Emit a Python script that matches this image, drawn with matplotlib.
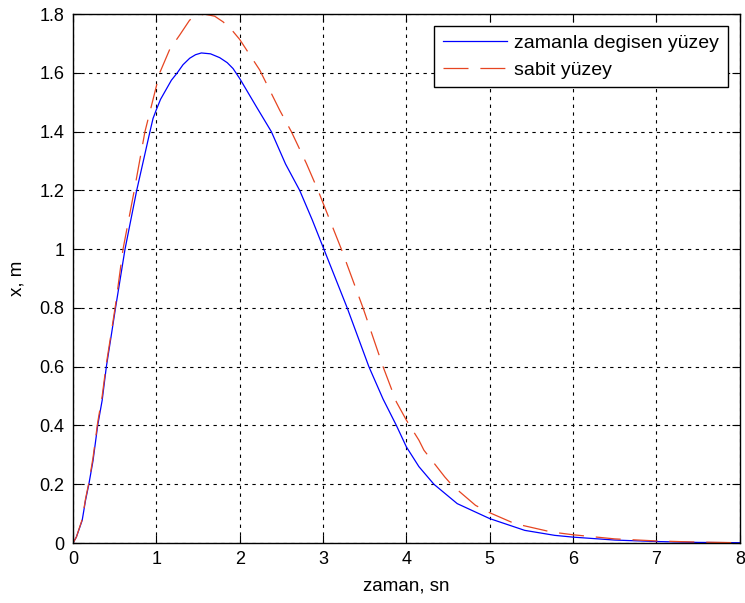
import matplotlib
matplotlib.use("Agg")
import matplotlib.pyplot as plt

t_blue = [0, 0.04, 0.11, 0.15, 0.19, 0.24, 0.296, 0.35, 0.40, 0.45, 0.51, 0.624, 0.764,
          0.923, 0.96, 1.0, 1.05, 1.12, 1.18, 1.25, 1.32, 1.4, 1.47, 1.54, 1.65, 1.76, 1.85,
          1.92, 2.0, 2.2, 2.38, 2.55, 2.72, 2.87, 3.01, 3.15, 3.29, 3.42, 3.55, 3.72, 3.88,
          4.0, 4.15, 4.33, 4.61, 5.0, 5.42, 5.78, 6.0, 6.5, 7.0, 7.5, 8.0]
x_blue = [0, 0.02, 0.077, 0.145, 0.2, 0.28, 0.4, 0.486, 0.6, 0.69, 0.8, 1.0, 1.2,
          1.4, 1.445, 1.475, 1.51, 1.545, 1.575, 1.6, 1.628, 1.65, 1.662, 1.668, 1.665, 1.652,
          1.635, 1.615, 1.581, 1.485, 1.4, 1.29, 1.2, 1.1, 1.0, 0.9, 0.8, 0.7, 0.6, 0.49, 0.4,
          0.327, 0.26, 0.2, 0.134, 0.083, 0.043, 0.026, 0.02, 0.01, 0.005, 0.002, 0.001]

t_red = [0, 0.04, 0.11, 0.15, 0.19, 0.24, 0.296, 0.35, 0.40, 0.45, 0.51, 0.60, 0.735,
         0.863, 1.04, 1.16, 1.28, 1.40, 1.5, 1.58, 1.7, 1.80, 1.9, 2.0, 2.24, 2.48, 2.62, 2.8,
         2.94, 3.22, 3.48, 3.72, 3.88, 4.0, 4.15, 4.21, 4.46, 4.55, 4.83, 5.0, 5.3, 5.74, 6.0,
         6.5, 7.0, 7.5, 8.0]
x_red = [0, 0.02, 0.08, 0.15, 0.205, 0.29, 0.41, 0.5, 0.61, 0.7, 0.81, 1.0, 1.2,
         1.4, 1.6, 1.68, 1.729, 1.78, 1.795, 1.8, 1.793, 1.774, 1.748, 1.714, 1.61, 1.473, 1.4,
         1.292, 1.2, 1.0, 0.8, 0.6, 0.48, 0.418, 0.35, 0.316, 0.225, 0.196, 0.128, 0.103, 0.066,
         0.0375, 0.028, 0.014, 0.007, 0.003, 0.001]

labels = ["zamanla degisen yüzey", "sabit yüzey"]
xlabel = "zaman, sn"
ylabel = "x, m"
xticks = [0, 1, 2, 3, 4, 5, 6, 7, 8]
yticks = [0, 0.2, 0.4, 0.6, 0.8, 1.0, 1.2, 1.4, 1.6, 1.8]
ytick_labels = ["0", "0.2", "0.4", "0.6", "0.8", "1", "1.2", "1.4", "1.6", "1.8"]

plt.rcParams['font.family'] = ['Liberation Sans', 'DejaVu Sans']
fs = 13
fig = plt.figure(figsize=(7.45, 6.03), dpi=100)
ax = fig.add_axes([0.098, 0.0995, 0.895, 0.877])

ax.plot(t_blue, x_blue, color=(0, 0, 1), lw=0.9, label=labels[0])
ax.plot(t_red, x_red, color=(0.9, 0.27, 0.13), lw=0.9, dashes=(20, 9.5), label=labels[1])

ax.set_xlim(0, 8)
ax.set_ylim(0, 1.8)
ax.set_xticks(xticks)
ax.set_yticks(yticks)
ax.set_yticklabels(ytick_labels)
ax.grid(True, color='black', linestyle=(0, (3, 4)), linewidth=0.8)
ax.tick_params(direction='in', top=True, right=True, labelsize=fs, length=6, pad=6)
for s in ax.spines.values():
    s.set_linewidth(1.0)
ax.set_xlabel(xlabel, fontsize=13.5)
ax.set_ylabel(ylabel, fontsize=13.5)
ax.xaxis.set_label_coords(0.5, -0.066)
ax.yaxis.set_label_coords(-0.072, 0.5)

leg = ax.legend(loc='upper right', fontsize=14, fancybox=False, edgecolor='black',
                framealpha=1, handlelength=3.3, handletextpad=0.4, labelspacing=0.45,
                borderpad=0.45, borderaxespad=0.6)
leg.get_frame().set_linewidth(1.0)

fig.savefig("out.png", dpi=100)
